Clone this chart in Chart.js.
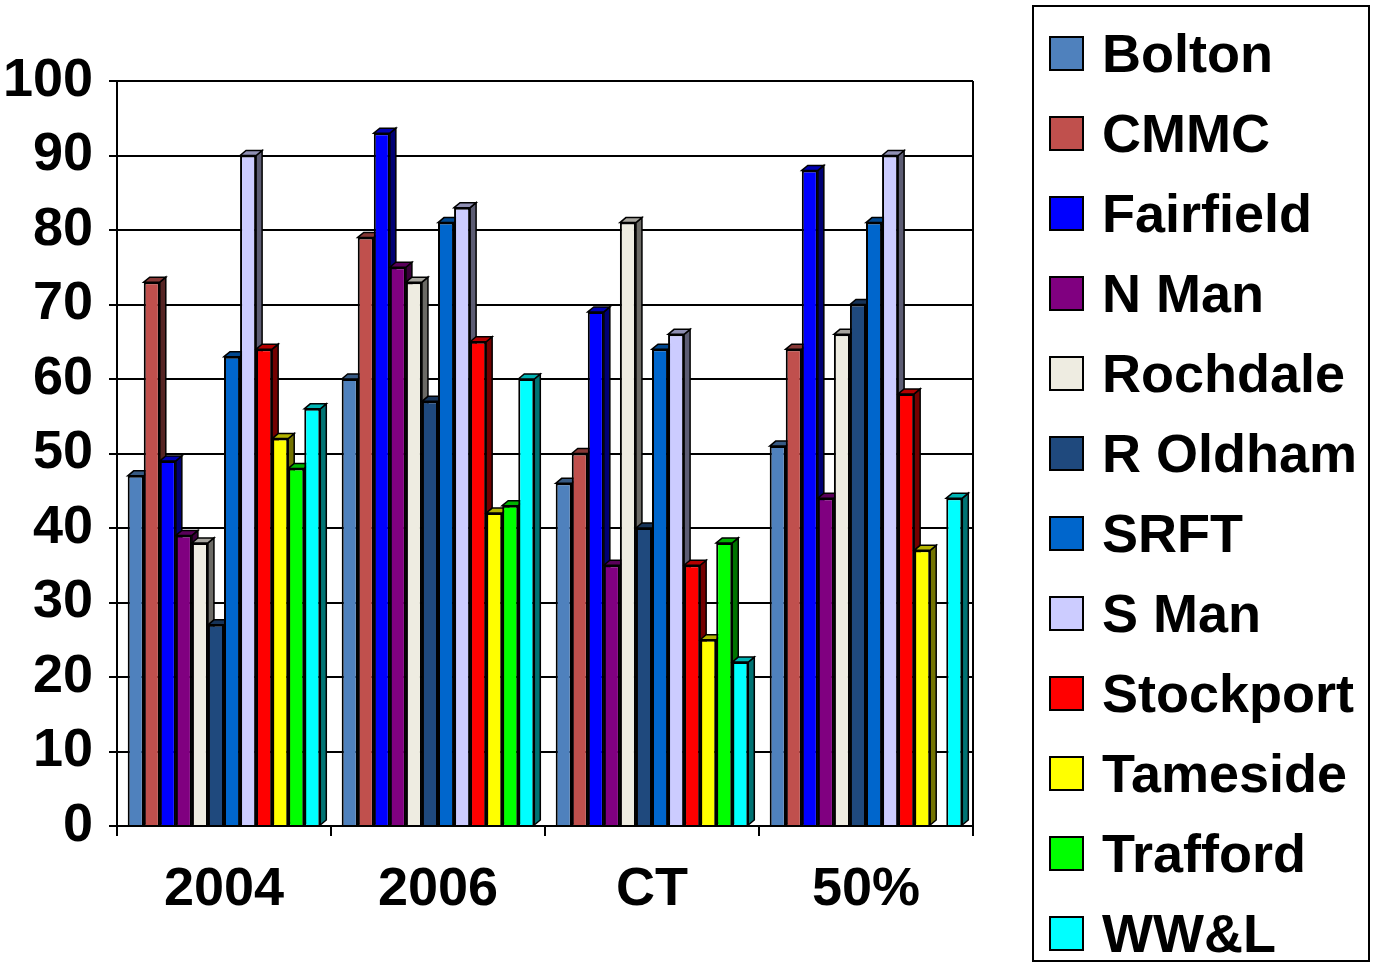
<!DOCTYPE html>
<html>
<head>
<meta charset="utf-8">
<script src="https://cdn.jsdelivr.net/npm/chart.js@4.4.1/dist/chart.umd.min.js"></script>
<style>
body { margin: 0; background: #fff; font-family: "Liberation Sans", Arial, sans-serif; }
#wrap { position: relative; width: 1374px; height: 966px; }
#chartBox { position: absolute; left: 0; top: 0; width: 1000px; height: 966px; }
#legend { position: absolute; left: 1032px; top: 5px; width: 334px; height: 947px; padding-top: 6px; border: 2px solid #000; }
.item { display: flex; align-items: center; height: 80px; }
.swatch { width: 31px; height: 31px; margin-left: 15px; margin-right: 18px; border: 2px solid #000; }
.label { font-weight: bold; font-size: 54px; line-height: 1; color: #000; white-space: nowrap; }
</style>
</head>
<body>
<div id="wrap">
  <div id="chartBox"><canvas id="chart"></canvas></div>
  <div id="legend"></div>
</div>
<script>
// categories and tick labels
const categories = ['2004', '2006', 'CT', '50%'];
const yTicks = [0, 10, 20, 30, 40, 50, 60, 70, 80, 90, 100];

// one array per trust, values for 2004 / 2006 / CT / 50%
const bolton    = [47, 60, 46, 51];
const cmmc      = [73, 79, 50, 64];
const fairfield = [49, 93, 69, 88];
const nMan      = [39, 75, 35, 44];
const rochdale  = [38, 73, 81, 66];
const rOldham   = [27, 57, 40, 70];
const srft      = [63, 81, 64, 81];
const sMan      = [90, 83, 66, 90];
const stockport = [64, 65, 35, 58];
const tameside  = [52, 42, 25, 37];
const trafford  = [48, 43, 38, 0];
const wwl       = [56, 60, 22, 44];

const seriesNames = ['Bolton', 'CMMC', 'Fairfield', 'N Man', 'Rochdale', 'R Oldham',
    'SRFT', 'S Man', 'Stockport', 'Tameside', 'Trafford', 'WW&L'];
const seriesValues = [bolton, cmmc, fairfield, nMan, rochdale, rOldham,
    srft, sMan, stockport, tameside, trafford, wwl];
const seriesColors = ['#4F81BD', '#C0504D', '#0000FF', '#800080', '#EEECE1', '#1F497D',
    '#0066CC', '#CCCCFF', '#FF0000', '#FFFF00', '#00FF00', '#00FFFF'];

const FONT = '"Liberation Sans", Arial, sans-serif';

function shade(hex, f) {
    const n = parseInt(hex.slice(1), 16);
    const r = Math.round(((n >> 16) & 255) * f);
    const g = Math.round(((n >> 8) & 255) * f);
    const b = Math.round((n & 255) * f);
    return `rgb(${r},${g},${b})`;
}

// fake 3D depth faces, drawn behind the bars so neighbours cover them
const depthPlugin = {
    id: 'depth',
    beforeDatasetsDraw(chart) {
        const ctx = chart.ctx;
        const dx = 6, dy = 5;
        ctx.save();
        ctx.lineWidth = 1.5;
        ctx.strokeStyle = '#000';
        chart.data.datasets.forEach((ds, i) => {
            const meta = chart.getDatasetMeta(i);
            meta.data.forEach(bar => {
                const { x, y, base, width } = bar.getProps(['x', 'y', 'base', 'width'], true);
                if (base - y < 0.5) return;
                const l = x - width / 2, r = x + width / 2;
                // right side
                ctx.fillStyle = shade(ds.backgroundColor, 0.45);
                ctx.beginPath();
                ctx.moveTo(r, y);
                ctx.lineTo(r + dx, y - dy);
                ctx.lineTo(r + dx, base - dy);
                ctx.lineTo(r, base);
                ctx.closePath();
                ctx.fill();
                ctx.stroke();
                // top
                ctx.fillStyle = shade(ds.backgroundColor, 0.7);
                ctx.beginPath();
                ctx.moveTo(l, y);
                ctx.lineTo(l + dx, y - dy);
                ctx.lineTo(r + dx, y - dy);
                ctx.lineTo(r, y);
                ctx.closePath();
                ctx.fill();
                ctx.stroke();
            });
        });
        ctx.restore();
    }
};

// right edge of the plot wall
const framePlugin = {
    id: 'frame',
    beforeDatasetsDraw(chart) {
        const { ctx, chartArea } = chart;
        ctx.save();
        ctx.strokeStyle = '#000';
        ctx.lineWidth = 2;
        ctx.beginPath();
        ctx.moveTo(chartArea.right, chartArea.top);
        ctx.lineTo(chartArea.right, chartArea.bottom);
        ctx.stroke();
        ctx.restore();
    }
};

const datasets = seriesNames.map((name, i) => ({
    label: name,
    data: seriesValues[i],
    backgroundColor: seriesColors[i],
    borderColor: '#000',
    borderWidth: 2,
    categoryPercentage: 0.9,
    barPercentage: 1.0
}));

new Chart(document.getElementById('chart'), {
    type: 'bar',
    data: { labels: categories, datasets },
    plugins: [depthPlugin, framePlugin],
    options: {
        responsive: true,
        maintainAspectRatio: false,
        animation: false,
        layout: { padding: { left: 5, top: 81, right: 27, bottom: 40 } },
        plugins: {
            legend: { display: false },
            tooltip: { enabled: false }
        },
        scales: {
            x: {
                offset: true,
                grid: { display: true, drawOnChartArea: false, offset: true, color: '#000', lineWidth: 2, tickLength: 10 },
                border: { display: true, color: '#000', width: 2 },
                ticks: { color: '#000', padding: 22, font: { family: FONT, size: 54, weight: 'bold' } },
                afterFit(scale) { scale.height = 100; }
            },
            y: {
                min: 0,
                max: 100,
                afterBuildTicks(scale) { scale.ticks = yTicks.map(v => ({ value: v })); },
                grid: { color: '#000', lineWidth: 2, tickLength: 8 },
                border: { display: true, color: '#000', width: 2 },
                ticks: { color: '#000', padding: 16, font: { family: FONT, size: 54, weight: 'bold' } },
                afterFit(scale) { scale.width = 112; }
            }
        }
    }
});

// legend
const legend = document.getElementById('legend');
seriesNames.forEach((name, i) => {
    const row = document.createElement('div');
    row.className = 'item';
    const sw = document.createElement('div');
    sw.className = 'swatch';
    sw.style.background = seriesColors[i];
    const lb = document.createElement('span');
    lb.className = 'label';
    lb.textContent = name;
    row.appendChild(sw);
    row.appendChild(lb);
    legend.appendChild(row);
});
</script>
</body>
</html>
